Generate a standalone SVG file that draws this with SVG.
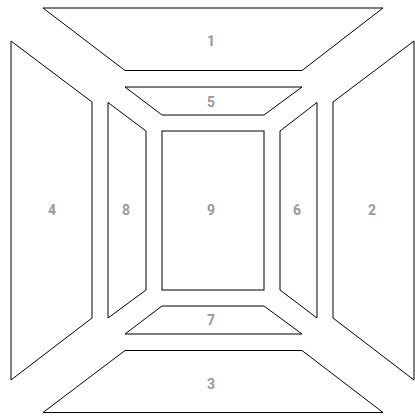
<svg xmlns="http://www.w3.org/2000/svg" width="415" height="416" viewBox="0 0 415 416">
<style>
.s{fill:#fff;stroke:#000;stroke-width:1;stroke-linejoin:miter}
.t{font-family:Roboto,"Liberation Sans",sans-serif;font-size:14px;font-weight:700;fill:#999;text-anchor:middle;dominant-baseline:central}
</style>
<rect width="415" height="416" fill="#fff"/>
<g id="n1"><polygon class="s" points="43,8 383,8 302,70.5 125,70.5"/><text class="t" x="211" y="41">1</text></g>
<g id="n5"><polygon class="s" points="125,87 302,87 264,115 162,115"/><text class="t" x="211" y="102">5</text></g>
<g id="n9"><rect class="s" x="162" y="131" width="102" height="159"/><text class="t" x="211" y="210">9</text></g>
<g id="n4"><polygon class="s" points="11,41 92,102 92,318 11,380"/><text class="t" x="52" y="210">4</text></g>
<g id="n8"><polygon class="s" points="108,102.5 146,131 146,290 108,318"/><text class="t" x="126" y="210">8</text></g>
<g id="n6"><polygon class="s" points="317,102.5 280,131 280,290 317,318"/><text class="t" x="297" y="210">6</text></g>
<g id="n2"><polygon class="s" points="414,41 333,102 333,318 414,380"/><text class="t" x="372" y="210">2</text></g>
<g id="n7"><polygon class="s" points="162,306 264,306 302,334 125,334"/><text class="t" x="211" y="320">7</text></g>
<g id="n3"><polygon class="s" points="125,350.5 302,350.5 383,412.5 43,412.5"/><text class="t" x="211" y="384">3</text></g>
<g id="connectors"></g>
</svg>
